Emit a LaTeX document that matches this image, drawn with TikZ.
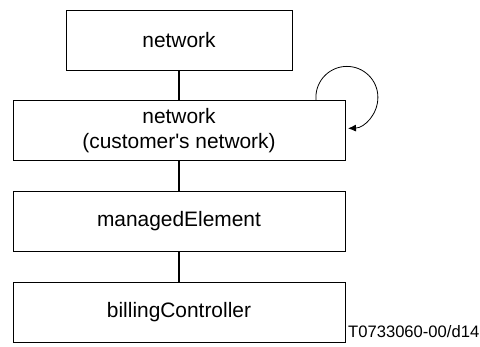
\documentclass[tikz,border=0pt]{standalone}
\usepackage{fontspec}
\setmainfont{Liberation Sans}[Ligatures=TeXOff]
\usetikzlibrary{arrows.meta}
\begin{document}
\begin{tikzpicture}[x=1pt,y=1pt,
  box/.style={draw,line width=0.8pt,minimum height=60pt,inner sep=0pt,align=center,font=\fontsize{20.9}{25}\selectfont},
  conn/.style={line width=1.3pt}]
\useasboundingbox (0,0) rectangle (480,347);
\node[box,minimum width=226pt] (n1) at (179,307) {network};
\node[box,minimum width=332pt] (n2) at (179,216.5) {network\\(customer's network)};
\node[box,minimum width=332pt] (n3) at (179,125.8) {managedElement};
\node[box,minimum width=332pt] (n4) at (179,35) {billingController};
\node[anchor=west,inner sep=0pt,font=\fontsize{16.6}{20}\selectfont] (lab) at (348,15) {T0733060-00/d14};
\draw[conn] (n1) -- (n2);
\draw[conn] (n2) -- (n3);
\draw[conn] (n3) -- (n4);
\coordinate (ls) at ([xshift=-29.5pt]n2.north east);
\draw[line width=0.8pt,-{Latex[length=8pt,width=7pt]}] (ls) -- ++(0,2.7) arc[start angle=180,end angle=-88,radius=31];
\end{tikzpicture}
\end{document}
